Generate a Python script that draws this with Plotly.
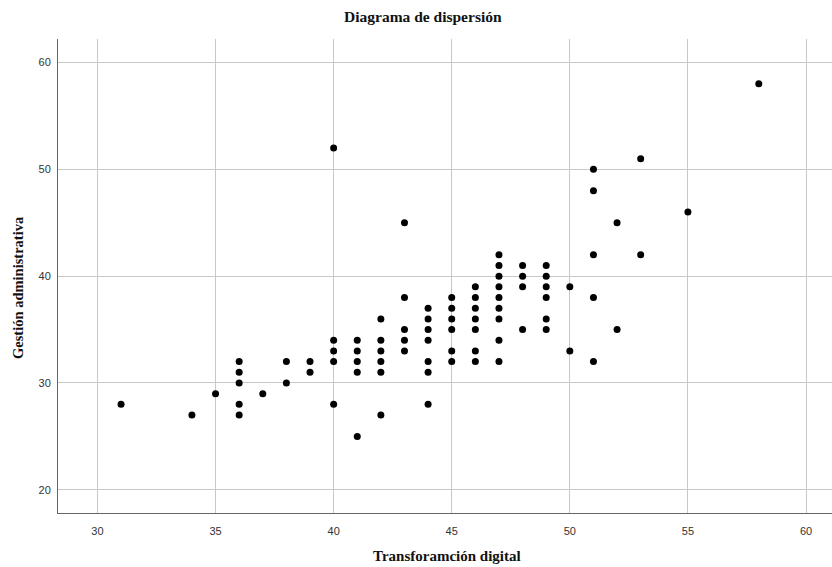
import plotly.graph_objects as go

# Transformación digital (x) and Gestión administrativa (y), one entry per respondent
transformacion_digital = (
    [31] + [34] + [35] + [36] * 5 + [37] + [38] * 2 + [39] * 2 + [40] * 5 + [41] * 5
    + [42] * 6 + [43] * 5 + [44] * 7 + [45] * 6 + [46] * 7 + [47] * 9 + [48] * 4
    + [49] * 6 + [50] * 2 + [51] * 5 + [52] * 2 + [53] * 2 + [55] + [58]
)
gestion_administrativa = [
    28,
    27,
    29,
    32, 31, 30, 28, 27,
    29,
    32, 30,
    32, 31,
    52, 34, 33, 32, 28,
    34, 33, 32, 31, 25,
    36, 34, 33, 32, 31, 27,
    45, 38, 35, 34, 33,
    37, 36, 35, 34, 32, 31, 28,
    38, 37, 36, 35, 33, 32,
    39, 38, 37, 36, 35, 33, 32,
    42, 41, 40, 39, 38, 37, 36, 34, 32,
    41, 40, 39, 35,
    41, 40, 39, 38, 36, 35,
    39, 33,
    50, 48, 42, 38, 32,
    45, 35,
    51, 42,
    46,
    58,
]

x_ticks = [30, 35, 40, 45, 50, 55, 60]
y_ticks = [20, 30, 40, 50, 60]

W, H = 832, 567
L, R, T, B = 58, 0, 39, 54
pw, ph = W - L - R, H - T - B

def px(xp):
    return (xp - L) / pw

def py(yp):
    return (H - B - yp) / ph

fig = go.Figure(
    go.Scatter(
        x=transformacion_digital,
        y=gestion_administrativa,
        mode="markers",
        marker=dict(color="black", size=7, line=dict(width=0)),
        hoverinfo="x+y",
    )
)

serif = "Liberation Serif, Times New Roman, serif"
tick_font = dict(family="Liberation Sans, Arial, sans-serif", size=11, color="#333333")
fig.update_layout(
    width=W,
    height=H,
    margin=dict(l=L, r=R, t=T, b=B),
    paper_bgcolor="white",
    plot_bgcolor="white",
    showlegend=False,
    font=tick_font,
    annotations=[
        dict(text="<b>Diagrama de dispersión</b>", x=px(423), y=py(16), xref="paper", yref="paper",
             xanchor="center", yanchor="middle", showarrow=False,
             font=dict(family=serif, size=15.5, color="#111111")),
        dict(text="<b>Transforamción digital</b>", x=px(447), y=py(556), xref="paper", yref="paper",
             xanchor="center", yanchor="middle", showarrow=False,
             font=dict(family=serif, size=15, color="#111111")),
        dict(text="<b>Gestión administrativa</b>", x=px(18), y=py(288), xref="paper", yref="paper",
             xanchor="center", yanchor="middle", showarrow=False, textangle=-90,
             font=dict(family=serif, size=14.5, color="#111111")),
    ],
)

fig.update_xaxes(
    range=[28.33, 61.1],
    tickvals=x_ticks,
    ticktext=[str(v) for v in x_ticks],
    tickfont=tick_font,
    showgrid=True,
    gridcolor="#c8c8c8",
    gridwidth=1,
    zeroline=False,
    showline=True,
    linecolor="#666666",
    linewidth=1,
    ticks="",
    ticklabelstandoff=8,
)
fig.update_yaxes(
    range=[17.83, 62.2],
    tickvals=y_ticks,
    ticktext=[str(v) for v in y_ticks],
    tickfont=tick_font,
    showgrid=True,
    gridcolor="#c8c8c8",
    gridwidth=1,
    zeroline=False,
    showline=True,
    linecolor="#666666",
    linewidth=1,
    ticks="",
    ticklabelstandoff=4,
)

fig.write_html(
    "out.html",
    config={"displayModeBar": False},
    post_script="document.body.style.margin='0';document.body.style.overflow='hidden';",
)
